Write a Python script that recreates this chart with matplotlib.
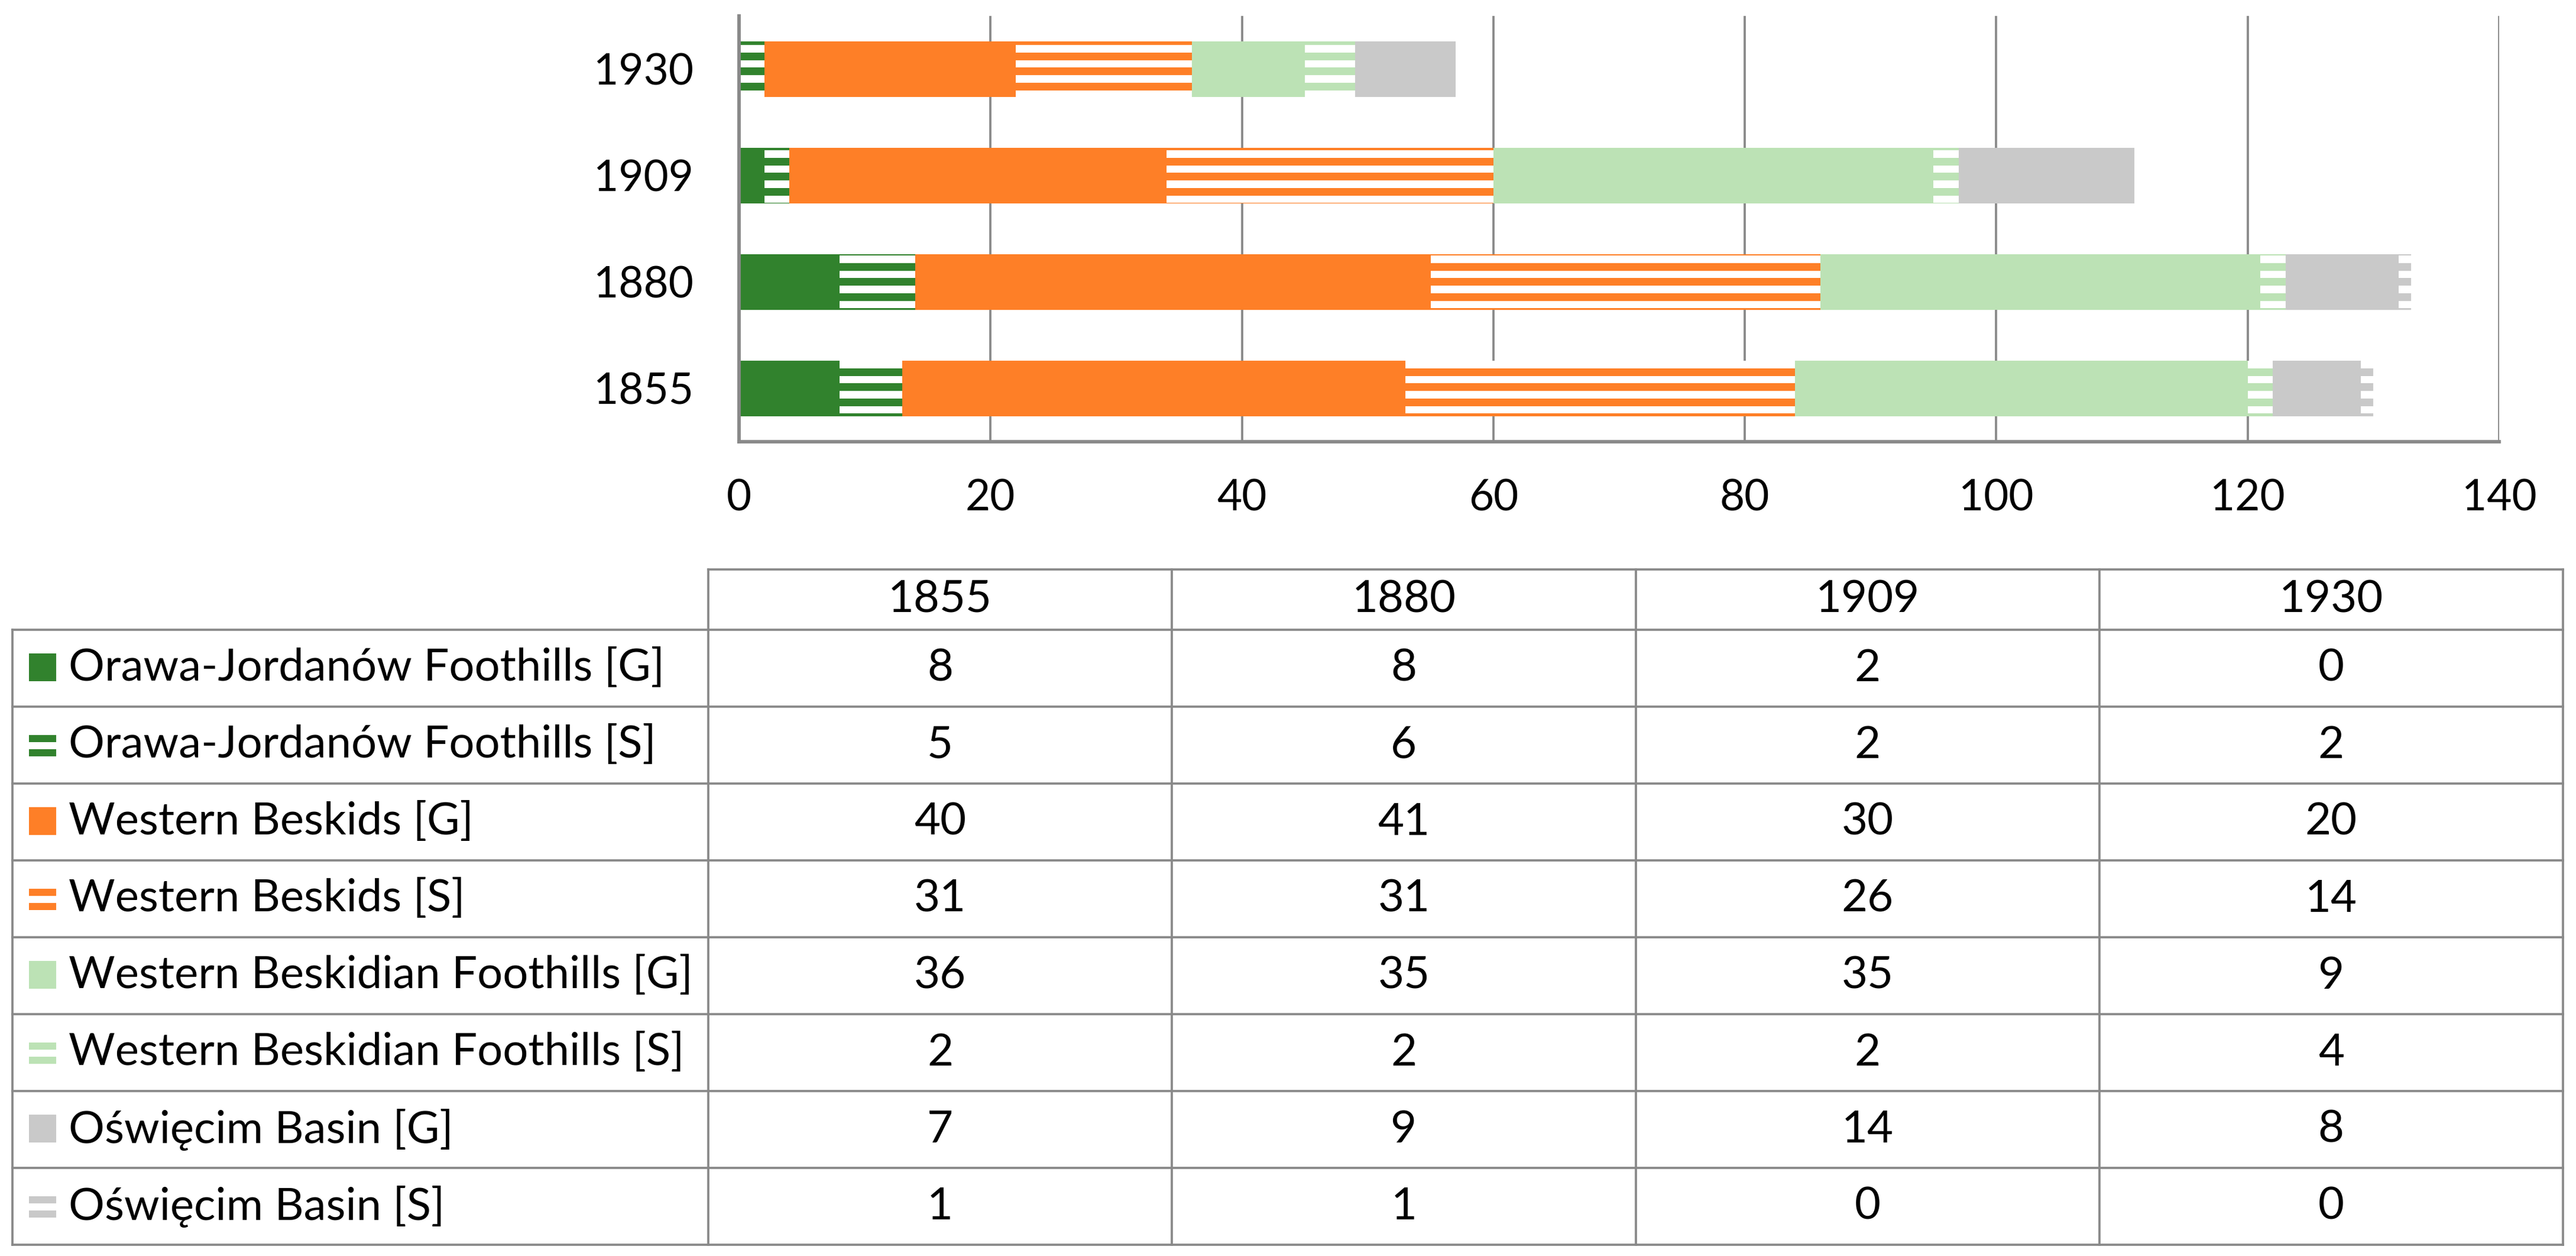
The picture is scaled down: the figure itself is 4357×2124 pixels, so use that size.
import matplotlib.pyplot as plt
from matplotlib.patches import Rectangle

plt.rcParams["font.family"] = ["Lato", "DejaVu Sans"]

YEARS = ["1855", "1880", "1909", "1930"]

orawa_g = [8, 8, 2, 0]
orawa_s = [5, 6, 2, 2]
beskids_g = [40, 41, 30, 20]
beskids_s = [31, 31, 26, 14]
foothills_g = [36, 35, 35, 9]
foothills_s = [2, 2, 2, 4]
oswiecim_g = [7, 9, 14, 8]
oswiecim_s = [1, 1, 0, 0]

SERIES = [
    ("Orawa-Jordanów Foothills [G]", orawa_g, "#31822d", False),
    ("Orawa-Jordanów Foothills [S]", orawa_s, "#31822d", True),
    ("Western Beskids [G]", beskids_g, "#fe7f27", False),
    ("Western Beskids [S]", beskids_s, "#fe7f27", True),
    ("Western Beskidian Foothills [G]", foothills_g, "#bce2b5", False),
    ("Western Beskidian Foothills [S]", foothills_s, "#bce2b5", True),
    ("Oświęcim Basin [G]", oswiecim_g, "#c9c9c9", False),
    ("Oświęcim Basin [S]", oswiecim_s, "#c9c9c9", True),
]

W, H, DPI = 4357, 2124, 150
FS = 35
FS_TAB = 36.5
GRID = "#898989"
BAR_H = 0.52
STRIPE_PERIOD = 0.1413
STRIPE_PHASE = 0.012


def add_stripes(ax, y, left, width, color):
    # horizontal stripes on a white bar, aligned on one global grid like Excel's pattern fill
    lo, hi = y - BAR_H / 2, y + BAR_H / 2
    k = int((lo - STRIPE_PHASE) // STRIPE_PERIOD) - 1
    while STRIPE_PHASE + k * STRIPE_PERIOD - STRIPE_PERIOD / 4 < hi:
        c = STRIPE_PHASE + k * STRIPE_PERIOD
        s0 = max(c - STRIPE_PERIOD / 4, lo)
        s1 = min(c + STRIPE_PERIOD / 4, hi)
        if s1 > s0:
            ax.barh(s0, width, left=left, height=s1 - s0, align="edge",
                    color=color, linewidth=0)
        k += 1


fig = plt.figure(figsize=(W / DPI, H / DPI), dpi=DPI)
ax = fig.add_axes([1250 / W, 1 - 747 / H, (4227 - 1250) / W, (747 - 27) / H])

ypos = list(range(len(YEARS)))
left = [0] * len(YEARS)
for name, vals, color, striped in SERIES:
    if striped:
        ax.barh(ypos, vals, left=left, height=BAR_H, color="white", linewidth=0)
        for y, l, v in zip(ypos, left, vals):
            if v > 0:
                add_stripes(ax, y, l, v, color)
    else:
        ax.barh(ypos, vals, left=left, height=BAR_H, color=color, linewidth=0)
    left = [a + b for a, b in zip(left, vals)]

ax.set_xlim(0, 140)
ax.set_ylim(-0.5, len(YEARS) - 0.5)
ax.set_xticks(range(0, 141, 20))
ax.set_yticks(ypos)
ax.set_yticklabels(YEARS)
ax.tick_params(axis="both", length=0, labelsize=FS)
ax.tick_params(axis="y", pad=37)
ax.tick_params(axis="x", pad=30)
ax.grid(axis="x", color=GRID, linewidth=1.8)
ax.set_axisbelow(True)
for side in ["top", "right"]:
    ax.spines[side].set_visible(False)
for side in ["left", "bottom"]:
    ax.spines[side].set_color(GRID)
    ax.spines[side].set_linewidth(2.8)

# data table under the chart, in pixel coordinates
tab = fig.add_axes([0, 0, 1, 1])
tab.set_xlim(0, W)
tab.set_ylim(H, 0)
tab.axis("off")

t_left, t_label, t_right = 21, 1198, 4335
head_top, head_bot, row_h = 963, 1065, 130
col_w = (t_right - t_label) / len(YEARS)
t_bottom = head_bot + row_h * len(SERIES)
lw = 1.8

tab.plot([t_label, t_right], [head_top, head_top], color=GRID, lw=lw)
for r in range(len(SERIES) + 1):
    yy = head_bot + r * row_h
    tab.plot([t_left, t_right], [yy, yy], color=GRID, lw=lw)
tab.plot([t_left, t_left], [head_bot, t_bottom], color=GRID, lw=lw)
for c in range(len(YEARS) + 1):
    xx = t_label + c * col_w
    tab.plot([xx, xx], [head_top, t_bottom], color=GRID, lw=lw)

for c, year in enumerate(YEARS):
    tab.text(t_label + (c + 0.5) * col_w, (head_top + head_bot) / 2, year,
             fontsize=FS_TAB, ha="center", va="center")

for r, (name, vals, color, striped) in enumerate(SERIES):
    top = head_bot + r * row_h
    mid = top + row_h / 2
    if striped:
        for off in (48, 72):
            tab.add_patch(Rectangle((49, top + off), 46, 12, color=color, lw=0))
    else:
        tab.add_patch(Rectangle((49, top + 40), 46, 47, color=color, lw=0))
    tab.text(116, mid, name, fontsize=FS_TAB, ha="left", va="center")
    for c, v in enumerate(vals):
        tab.text(t_label + (c + 0.5) * col_w, mid, str(v),
                 fontsize=FS_TAB, ha="center", va="center")

fig.savefig("out.png", dpi=DPI)
